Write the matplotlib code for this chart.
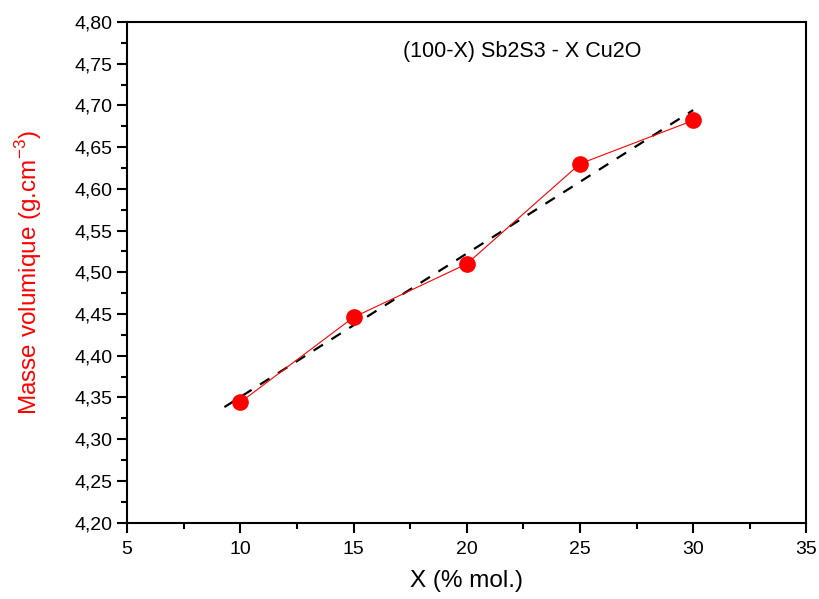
import numpy as np
import matplotlib
matplotlib.use('Agg')
import matplotlib.pyplot as plt
from matplotlib.ticker import MultipleLocator, FuncFormatter

plt.rcParams['font.family'] = ['Liberation Sans', 'DejaVu Sans']

# Cu2O content (% mol.) and measured density (g/cm3)
x_cu2o = [10, 15, 20, 25, 30]
density = [4.344, 4.446, 4.510, 4.630, 4.682]

# linear fit range
fit_x = [9.3, 30]

fig = plt.figure(figsize=(8.2, 5.99), dpi=100)
ax = fig.add_axes([0.1549, 0.1277, 0.8286, 0.8356])

slope, intercept = np.polyfit(x_cu2o, density, 1)
fx = np.array(fit_x)
ax.plot(fx, slope * fx + intercept, color='black', lw=1.6, ls=(0, (5, 4.5)))
ax.plot(x_cu2o, density, color='red', lw=0.8, marker='o', ms=11,
        markeredgecolor='red', markerfacecolor='red')

ax.set_xlim(5, 35)
ax.set_ylim(4.20, 4.80)
ax.xaxis.set_major_locator(MultipleLocator(5))
ax.xaxis.set_minor_locator(MultipleLocator(2.5))
ax.yaxis.set_major_locator(MultipleLocator(0.05))
ax.yaxis.set_minor_locator(MultipleLocator(0.025))
ax.yaxis.set_major_formatter(FuncFormatter(lambda v, p: f'{v:.2f}'.replace('.', ',')))
ax.xaxis.set_major_formatter(FuncFormatter(lambda v, p: f'{v:.0f}'))

for s in ax.spines.values():
    s.set_linewidth(1.5)
ax.tick_params(which='major', direction='out', length=7, width=1.5, labelsize=14)
ax.tick_params(axis='x', which='major', pad=6)
ax.tick_params(which='minor', direction='out', length=4, width=1.5)

ax.set_xlabel('X (% mol.)', fontsize=17.5, labelpad=9)
ax.set_ylabel('Masse volumique (g.cm$^{\\mathregular{-3}}$)', fontsize=17.5,
              color='red', labelpad=22)

ax.text(0.581, 0.942, '(100-X) Sb2S3 - X Cu2O', transform=ax.transAxes,
        ha='center', va='center', fontsize=15.5)

fig.savefig('out.png', dpi=100)
